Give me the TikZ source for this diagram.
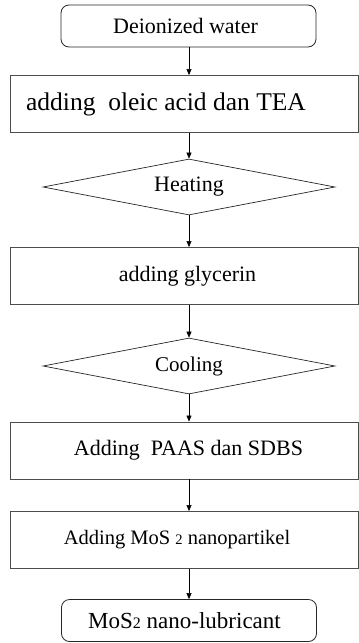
\documentclass[tikz,border=0pt]{standalone}
\usepackage{fontspec}
\setmainfont{Liberation Serif}
\usetikzlibrary{shapes.geometric,arrows.meta}
\newcommand{\fs}[1]{\fontsize{#1}{#1}\selectfont}
\begin{document}
\begin{tikzpicture}[x=1pt,y=1pt,
  every node/.style={text=black, inner sep=0pt},
  term/.style={draw=black!85, line width=0.8pt, rounded corners=8pt, minimum width=255pt, minimum height=42pt},
  proc/.style={draw=black!70, line width=0.9pt, minimum width=348pt, minimum height=57pt},
  dec/.style={draw=black!85, line width=0.7pt, diamond, aspect=5.2, minimum width=292pt, minimum height=56pt},
  flow/.style={draw=black, line width=0.6pt, -{Triangle[length=6pt,width=5pt]}}
]
\useasboundingbox (0,0) rectangle (359,-643);
\node[term, font=\fs{22}] (t1) at (188.5,-26) {Deionized water\hspace*{6pt}};
\node[proc, font=\fs{25.5}] (p1) at (184,-104) {adding\ \ oleic acid dan TEA\hspace*{36pt}};
\node[dec, font=\fs{22}]  (d1) at (189,-187) {Heating};
\node[proc, font=\fs{22}] (p2) at (184,-276) {\hspace*{7pt}adding glycerin};
\node[dec, font=\fs{21}]  (d2) at (189,-366) {Cooling};
\node[proc, font=\fs{22}] (p3) at (184,-450.5) {\hspace*{9pt}Adding\ \ PAAS dan SDBS};
\node[proc, font=\fs{20.5}] (p4) at (184,-540) {Adding MoS {\fs{14.5}2} nanopartikel\hspace*{14pt}};
\node[term, font=\fs{23}] (t2) at (189,-620.5) {MoS{\fs{16}2} nano-lubricant\hspace*{9pt}};
\coordinate (ax) at (189,0);
\draw[flow] (t1.south -| ax) -- (p1.north -| ax);
\draw[flow] (p1.south -| ax) -- (d1.north);
\draw[flow] (d1.south) -- (p2.north -| ax);
\draw[flow] (p2.south -| ax) -- (d2.north);
\draw[flow] (d2.south) -- (p3.north -| ax);
\draw[flow] (p3.south -| ax) -- (p4.north -| ax);
\draw[flow] (p4.south -| ax) -- (t2.north -| ax);
\end{tikzpicture}
\end{document}
